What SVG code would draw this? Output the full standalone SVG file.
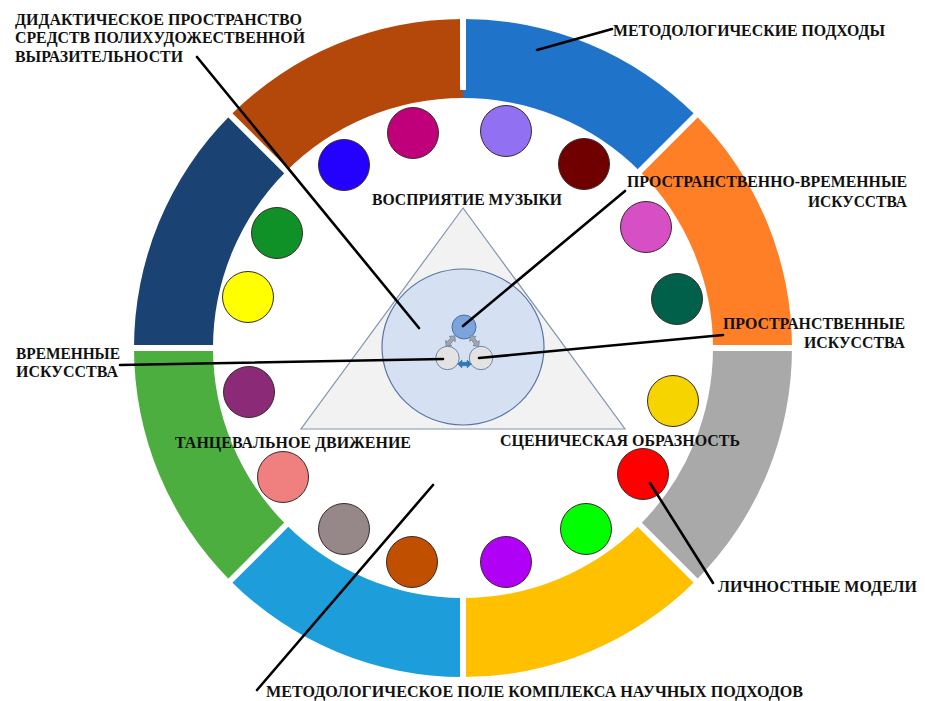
<svg xmlns="http://www.w3.org/2000/svg" width="925" height="701" viewBox="0 0 925 701">
<style>
.lbl{font-family:"Liberation Serif","Times New Roman","DejaVu Serif",serif;font-weight:bold;font-size:17px;fill:#111}
.dot{stroke:#3a2a2a;stroke-width:1}
.gap{stroke:#fff;stroke-width:6}
.lead{stroke:#000;stroke-width:2.6;fill:none;stroke-linecap:round}
</style>
<defs>
<path id="dbl" d="M-6.5,0 L-2.5,-3.8 L-2.5,-1.7 L2.5,-1.7 L2.5,-3.8 L6.5,0 L2.5,3.8 L2.5,1.7 L-2.5,1.7 L-2.5,3.8 Z"/>
</defs>
<rect width="925" height="701" fill="#fff"/>
<g id="ring">
<path fill="#1F73C9" d="M463,19 A329,329 0 0 1 695.64,115.36 L639.78,171.22 A250,250 0 0 0 463,98 Z"/>
<path fill="#FF7F27" d="M695.64,115.36 A329,329 0 0 1 792,348 L713,348 A250,250 0 0 0 639.78,171.22 Z"/>
<path fill="#A9A9A9" d="M792,348 A329,329 0 0 1 695.64,580.64 L639.78,524.78 A250,250 0 0 0 713,348 Z"/>
<path fill="#FFC000" d="M695.64,580.64 A329,329 0 0 1 463,677 L463,598 A250,250 0 0 0 639.78,524.78 Z"/>
<path fill="#1D9DD9" d="M463,677 A329,329 0 0 1 230.36,580.64 L286.22,524.78 A250,250 0 0 0 463,598 Z"/>
<path fill="#4BAE3F" d="M230.36,580.64 A329,329 0 0 1 134,348 L213,348 A250,250 0 0 0 286.22,524.78 Z"/>
<path fill="#1A4273" d="M134,348 A329,329 0 0 1 230.36,115.36 L286.22,171.22 A250,250 0 0 0 213,348 Z"/>
<path fill="#B4480A" d="M230.36,115.36 A329,329 0 0 1 463,19 L463,98 A250,250 0 0 0 286.22,171.22 Z"/>
<g class="gap">
<line x1="463" y1="90" x2="463" y2="12"/>
<line x1="634" y1="177" x2="701" y2="110"/>
<line x1="705" y1="348" x2="800" y2="348"/>
<line x1="634" y1="519" x2="701" y2="586"/>
<line x1="463" y1="590" x2="463" y2="685"/>
<line x1="292" y1="519" x2="225" y2="586"/>
<line x1="221" y1="348" x2="126" y2="348"/>
<line x1="292" y1="177" x2="225" y2="110"/>
</g>
</g>
<g id="dots">
<circle class="dot" cx="344" cy="165" r="25.5" fill="#2300FF"/>
<circle class="dot" cx="413" cy="133" r="25.5" fill="#C0007A"/>
<circle class="dot" cx="506" cy="131" r="25.5" fill="#9171F2"/>
<circle class="dot" cx="584" cy="164" r="25.5" fill="#700000"/>
<circle class="dot" cx="646" cy="227" r="25.5" fill="#D64FC4"/>
<circle class="dot" cx="677" cy="299" r="25.5" fill="#00604A"/>
<circle class="dot" cx="673" cy="401" r="25.5" fill="#F5D400"/>
<circle class="dot" cx="643" cy="474" r="25.5" fill="#FF0000"/>
<circle class="dot" cx="586" cy="529" r="25.5" fill="#00FF00"/>
<circle class="dot" cx="506" cy="562" r="25.5" fill="#B000F5"/>
<circle class="dot" cx="412" cy="562" r="25.5" fill="#C05000"/>
<circle class="dot" cx="344" cy="529" r="25.5" fill="#968888"/>
<circle class="dot" cx="283" cy="477" r="25.5" fill="#F08080"/>
<circle class="dot" cx="249" cy="392" r="25.5" fill="#8B2A77"/>
<circle class="dot" cx="248" cy="297" r="25.5" fill="#FFFF00"/>
<circle class="dot" cx="277" cy="233" r="25.5" fill="#109128"/>
</g>
<g id="triangle">
<polygon points="463,208 301,429 625,429" fill="#F2F2F2" stroke="#8496B0" stroke-width="1.2"/>
</g>
<g id="core">
<ellipse cx="463" cy="347" rx="81" ry="78" fill="#D5E1F3" stroke="#5876A5" stroke-width="1.2"/>
<circle cx="464" cy="327" r="12" fill="#7BA3DC" stroke="#4A6FA5" stroke-width="1"/>
<circle cx="447.5" cy="358" r="11.7" fill="#E3E3E3" stroke="#6F87A6" stroke-width="1"/>
<circle cx="481" cy="358" r="11.7" fill="#E3E3E3" stroke="#6F87A6" stroke-width="1"/>
<use href="#dbl" transform="translate(450.5,341) rotate(-49) scale(1.05)" fill="#A6A6A6" stroke="#6F87A6" stroke-width="0.8"/>
<use href="#dbl" transform="translate(474.5,341) rotate(53) scale(1.05)" fill="#A6A6A6" stroke="#6F87A6" stroke-width="0.8"/>
<use href="#dbl" transform="translate(464.5,364) scale(1.05)" fill="#2E75B6" stroke="#2E75B6" stroke-width="0.6"/>
</g>
<g id="connectors">
<line class="lead" x1="197" y1="57" x2="419" y2="328"/>
<line class="lead" x1="537" y1="50" x2="612" y2="29"/>
<line class="lead" x1="625" y1="191" x2="463" y2="326"/>
<line class="lead" x1="723" y1="335" x2="479" y2="358"/>
<line class="lead" x1="120" y1="365" x2="443" y2="359"/>
<line class="lead" x1="713" y1="583" x2="650" y2="483"/>
<line class="lead" x1="257" y1="690" x2="433" y2="485"/>
</g>
<g id="labels">
<text class="lbl" x="15" y="25" textLength="287" lengthAdjust="spacingAndGlyphs">ДИДАКТИЧЕСКОЕ ПРОСТРАНСТВО</text>
<text class="lbl" x="15" y="43" textLength="290" lengthAdjust="spacingAndGlyphs">СРЕДСТВ ПОЛИХУДОЖЕСТВЕННОЙ</text>
<text class="lbl" x="15" y="62" textLength="168" lengthAdjust="spacingAndGlyphs">ВЫРАЗИТЕЛЬНОСТИ</text>
<text class="lbl" x="613" y="36" textLength="272" lengthAdjust="spacingAndGlyphs">МЕТОДОЛОГИЧЕСКИЕ ПОДХОДЫ</text>
<text class="lbl" x="627" y="187" textLength="280" lengthAdjust="spacingAndGlyphs">ПРОСТРАНСТВЕННО-ВРЕМЕННЫЕ</text>
<text class="lbl" x="808" y="207" textLength="99" lengthAdjust="spacingAndGlyphs">ИСКУССТВА</text>
<text class="lbl" x="723" y="329" textLength="182" lengthAdjust="spacingAndGlyphs">ПРОСТРАНСТВЕННЫЕ</text>
<text class="lbl" x="804" y="348" textLength="101" lengthAdjust="spacingAndGlyphs">ИСКУССТВА</text>
<text class="lbl" x="16" y="359" textLength="104" lengthAdjust="spacingAndGlyphs">ВРЕМЕННЫЕ</text>
<text class="lbl" x="16" y="377" textLength="102" lengthAdjust="spacingAndGlyphs">ИСКУССТВА</text>
<text class="lbl" x="372" y="205" textLength="190" lengthAdjust="spacingAndGlyphs">ВОСПРИЯТИЕ МУЗЫКИ</text>
<text class="lbl" x="175" y="448" textLength="236" lengthAdjust="spacingAndGlyphs">ТАНЦЕВАЛЬНОЕ ДВИЖЕНИЕ</text>
<text class="lbl" x="500" y="446" textLength="240" lengthAdjust="spacingAndGlyphs">СЦЕНИЧЕСКАЯ ОБРАЗНОСТЬ</text>
<text class="lbl" x="718" y="592" textLength="199" lengthAdjust="spacingAndGlyphs">ЛИЧНОСТНЫЕ МОДЕЛИ</text>
<text class="lbl" x="266" y="697" textLength="537" lengthAdjust="spacingAndGlyphs">МЕТОДОЛОГИЧЕСКОЕ ПОЛЕ КОМПЛЕКСА НАУЧНЫХ ПОДХОДОВ</text>
</g>
</svg>
